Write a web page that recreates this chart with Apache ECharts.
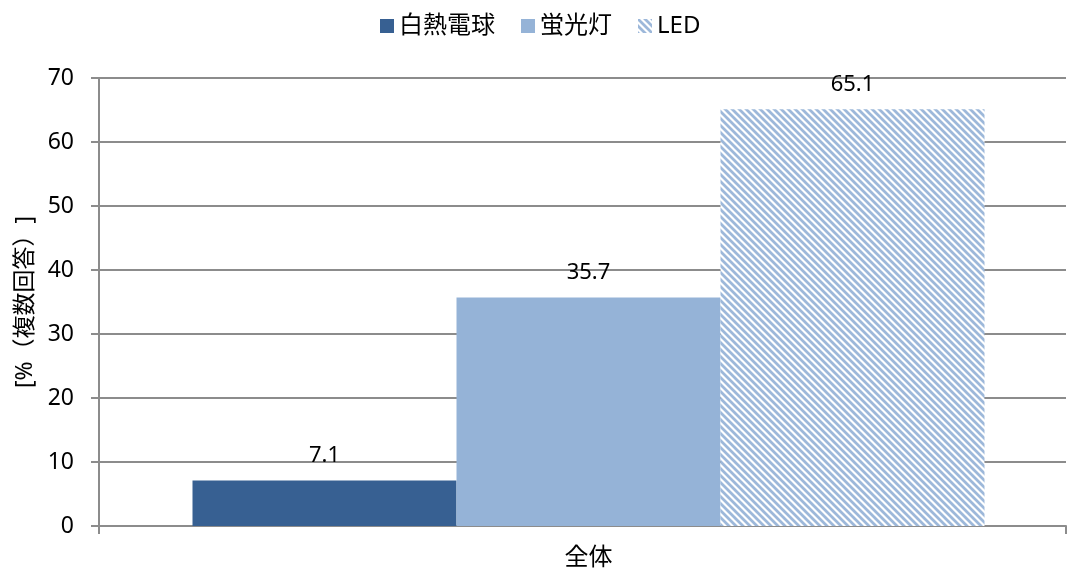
<!DOCTYPE html>
<html><head><meta charset="utf-8">
<script src="https://cdn.jsdelivr.net/npm/echarts@6/dist/echarts.min.js"></script>
<style>html,body{margin:0;padding:0;background:#fff}#c{width:1067px;height:574px}</style>
</head><body><div id="c"></div>
<script>
const categories = ['全体'];
const seriesNames = ['白熱電球', '蛍光灯', 'LED'];
const incandescent = [7.1];
const fluorescent = [35.7];
const led = [65.1];
const yTicks = [0, 10, 20, 30, 40, 50, 60, 70];
const yAxisName = '[%（複数回答）]';

function stripes() {
  const s = 7;
  const c = document.createElement('canvas');
  c.width = s; c.height = s;
  const g = c.getContext('2d');
  g.fillStyle = '#ffffff';
  g.fillRect(0, 0, s, s);
  g.strokeStyle = '#9DB8DA';
  g.lineWidth = 2.8;
  g.beginPath();
  g.moveTo(-s, 0); g.lineTo(s, 2 * s);
  g.moveTo(0, 0); g.lineTo(s, s);
  g.moveTo(0, -s); g.lineTo(2 * s, s);
  g.stroke();
  return c;
}
const pattern = { image: stripes(), repeat: 'repeat' };
const FONT = '"Noto Sans", "Noto Sans CJK JP", sans-serif';
const AX = '#8c8c8c';
const chart = echarts.init(document.getElementById('c'));
const lbl = { show: true, position: 'top', distance: 14, color: '#000', fontSize: 22, fontFamily: FONT };
const gridTop = 78, gridBottom = 48;
chart.setOption({
  animation: false,
  textStyle: { fontFamily: FONT },
  legend: {
    top: 9, left: 375, itemWidth: 14, itemHeight: 14, itemGap: 26,
    textStyle: { fontSize: 24, color: '#000', fontFamily: FONT },
    data: seriesNames.map(n => ({ name: n, icon: 'rect' }))
  },
  grid: [
    { left: 99, right: 1, top: gridTop, bottom: gridBottom },
    { left: 111, right: 1, top: gridTop, bottom: gridBottom }
  ],
  xAxis: [
    { type: 'category', gridIndex: 0, data: categories,
      axisLine: { lineStyle: { color: AX, width: 2 } },
      axisTick: { show: true, length: 8, lineStyle: { color: AX, width: 2 } },
      axisLabel: { show: false } },
    { type: 'category', gridIndex: 1, data: categories,
      axisLine: { show: false }, axisTick: { show: false },
      axisLabel: { fontSize: 24, color: '#000', margin: 20, fontFamily: FONT } }
  ],
  yAxis: [
    { type: 'value', gridIndex: 0, min: yTicks[0], max: yTicks[yTicks.length - 1], interval: 10,
      name: yAxisName, nameLocation: 'middle', nameGap: 62, nameRotate: 90,
      nameTextStyle: { fontSize: 23, color: '#000', fontFamily: FONT },
      axisLine: { show: true, lineStyle: { color: AX, width: 2 } },
      axisTick: { show: true, length: 8, lineStyle: { color: AX, width: 2 } },
      axisLabel: { fontSize: 23, color: '#000', margin: 25, fontFamily: FONT },
      splitLine: { lineStyle: { color: AX, width: 2 } } },
    { type: 'value', gridIndex: 1, min: yTicks[0], max: yTicks[yTicks.length - 1], interval: 10,
      show: false }
  ],
  series: [
    { name: seriesNames[0], type: 'bar', xAxisIndex: 1, yAxisIndex: 1, data: incandescent, barWidth: 264, barGap: '0%',
      itemStyle: { color: '#376092' }, label: lbl },
    { name: seriesNames[1], type: 'bar', xAxisIndex: 1, yAxisIndex: 1, data: fluorescent, barWidth: 264, barGap: '0%',
      itemStyle: { color: '#95B3D7' }, label: lbl },
    { name: seriesNames[2], type: 'bar', xAxisIndex: 1, yAxisIndex: 1, data: led, barWidth: 264, barGap: '0%',
      itemStyle: { color: pattern }, label: lbl }
  ]
});
</script></body></html>
